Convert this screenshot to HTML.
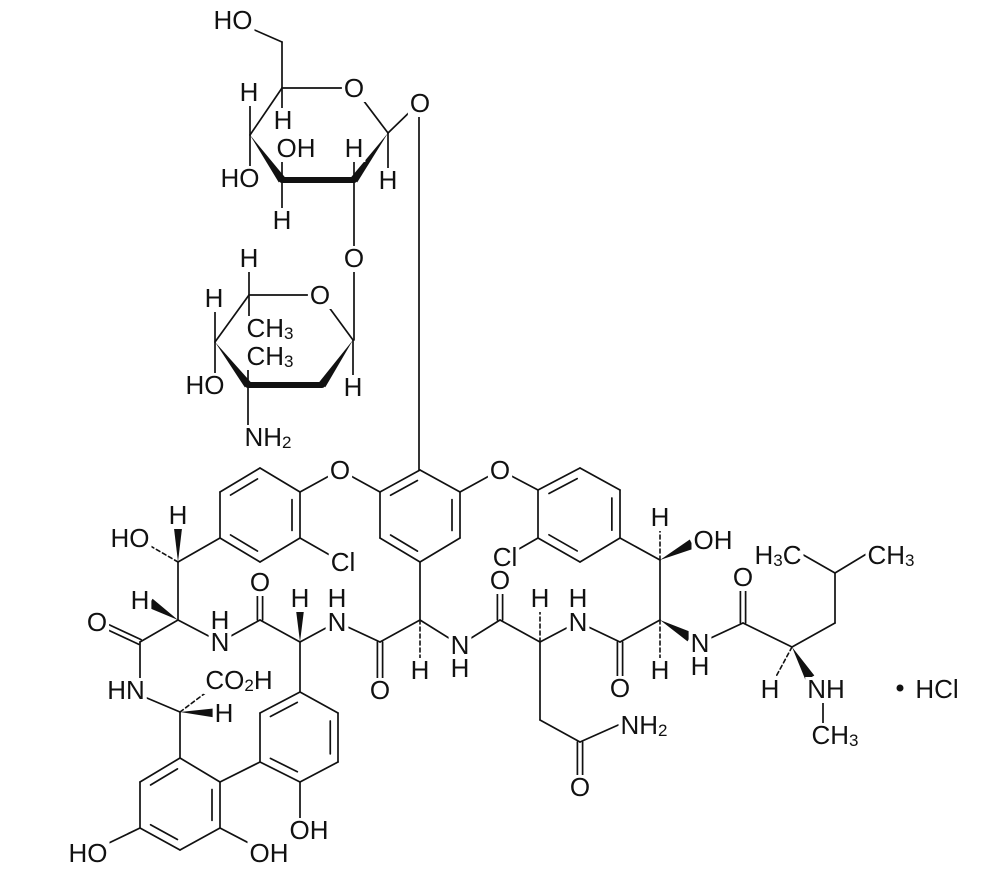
<!DOCTYPE html>
<html><head><meta charset="utf-8"><style>
html,body{margin:0;padding:0;background:#fff;}
svg{display:block;}
text{font-family:"Liberation Sans",Arial,sans-serif;font-size:26px;fill:#111;text-anchor:middle;dominant-baseline:central;}
tspan.s{font-size:17px;}
</style></head><body>
<svg id="s" width="982" height="872" viewBox="0 0 982 872" xmlns="http://www.w3.org/2000/svg">
<g id="b" stroke="#111" stroke-width="1.7" fill="none" stroke-linecap="round"></g>
<g id="m" fill="#fff" stroke="none"></g>
<g id="t">
<text x="233" y="20">HO</text>
<text x="354" y="88">O</text>
<text x="420" y="103">O</text>
<text x="249" y="92">H</text>
<text x="283" y="120">H</text>
<text x="354" y="148">H</text>
<text x="296" y="148">OH</text>
<text x="240" y="178">HO</text>
<text x="388" y="180">H</text>
<text x="282" y="220">H</text>
<text x="354" y="258">O</text>
<text x="249" y="258">H</text>
<text x="320" y="295">O</text>
<text x="214" y="298">H</text>
<text x="270" y="328">CH<tspan class="s" dy="5">3</tspan></text>
<text x="270" y="356">CH<tspan class="s" dy="5">3</tspan></text>
<text x="205" y="385">HO</text>
<text x="353" y="387">H</text>
<text x="268" y="437">NH<tspan class="s" dy="5">2</tspan></text>
<text x="340" y="470">O</text>
<text x="500" y="470">O</text>
<text x="178" y="515">H</text>
<text x="130" y="538">HO</text>
<text x="343" y="562">Cl</text>
<text x="505" y="557">Cl</text>
<text x="660" y="517">H</text>
<text x="713" y="540">OH</text>
<text x="778" y="555">H<tspan class="s" dy="5">3</tspan><tspan dy="-5">C</tspan></text>
<text x="891" y="555">CH<tspan class="s" dy="5">3</tspan></text>
<text x="260" y="582">O</text>
<text x="500" y="580">O</text>
<text x="743" y="577">O</text>
<text x="140" y="600">H</text>
<text x="300" y="598">H</text>
<text x="337" y="598">H</text>
<text x="578" y="598">H</text>
<text x="540" y="598">H</text>
<text x="220" y="620">H</text>
<text x="97" y="622">O</text>
<text x="220" y="642">N</text>
<text x="337" y="622">N</text>
<text x="578" y="622">N</text>
<text x="460" y="645">N</text>
<text x="700" y="643">N</text>
<text x="420" y="670">H</text>
<text x="460" y="668">H</text>
<text x="660" y="670">H</text>
<text x="700" y="666">H</text>
<text x="239" y="680">CO<tspan class="s" dy="5">2</tspan><tspan dy="-5">H</tspan></text>
<text x="126" y="690">HN</text>
<text x="380" y="690">O</text>
<text x="620" y="688">O</text>
<text x="770" y="689">H</text>
<text x="826" y="689">NH</text>
<text x="937" y="689">HCl</text>
<text x="224" y="713">H</text>
<text x="644" y="725">NH<tspan class="s" dy="5">2</tspan></text>
<text x="835" y="735">CH<tspan class="s" dy="5">3</tspan></text>
<text x="580" y="787">O</text>
<text x="309" y="830">OH</text>
<text x="88" y="853">HO</text>
<text x="269" y="853">OH</text>
</g>
<circle cx="900" cy="688" r="3.5" fill="#111"/>
</svg>
<script>
var g=document.getElementById('b'),NS='http://www.w3.org/2000/svg';
function el(n,a){var e=document.createElementNS(NS,n);for(var k in a)e.setAttribute(k,a[k]);g.appendChild(e);return e;}
function L(a,b,c,d,w,da){var o={x1:a,y1:b,x2:c,y2:d};if(w)o['stroke-width']=w;if(da)o['stroke-dasharray']=da;return el('line',o);}
function D(a,b,c,d){var dx=c-a,dy=d-b,l=Math.hypot(dx,dy),nx=-dy/l*2.6,ny=dx/l*2.6;L(a+nx,b+ny,c+nx,d+ny);L(a-nx,b-ny,c-nx,d-ny);}
function W(a,b,c,d,w){w=w||4;var dx=c-a,dy=d-b,l=Math.hypot(dx,dy),nx=-dy/l*w,ny=dx/l*w;el('polygon',{points:a+','+b+' '+(c+nx)+','+(d+ny)+' '+(c-nx)+','+(d-ny),fill:'#111',stroke:'none'});}
function H(a,b,c,d){L(a,b,c,d,1.6,'4,3');}
function ring(v,inner){var cx=0,cy=0;v.forEach(function(p){cx+=p[0];cy+=p[1];});cx/=6;cy/=6;
for(var i=0;i<6;i++){var p=v[i],q=v[(i+1)%6];L(p[0],p[1],q[0],q[1]);}
inner.forEach(function(i){var p=v[i],q=v[(i+1)%6],f=0.2;
var p1=[p[0]+(cx-p[0])*f,p[1]+(cy-p[1])*f],q1=[q[0]+(cx-q[0])*f,q[1]+(cy-q[1])*f];
var t=0.08;L(p1[0]+(q1[0]-p1[0])*t,p1[1]+(q1[1]-p1[1])*t,q1[0]+(p1[0]-q1[0])*t,q1[1]+(p1[1]-q1[1])*t);});}
L(250,28,282,42);L(282,42,282,88);L(282,88,354,88);L(354,88,388,133);L(388,133,419,103);L(419,103,419,470);
L(388,133,388,180);W(388,133,354,180);L(354,180,282,180,6);W(250,135,282,180);L(250,135,282,88);
L(354,180,354,148);L(354,180,354,258);L(282,180,282,150);L(282,180,282,220);L(250,135,250,92);L(250,135,250,178);L(282,88,282,120);
L(354,258,354,340);L(320,295,353,340);L(249,295,320,295);L(249,295,249,258);L(249,295,249,318);L(249,295,215,342);
L(215,342,215,298);L(215,342,215,385);W(215,342,248,385);L(248,385,248,356);L(248,385,248,437);L(248,385,322,385,6);
W(353,340,322,385);L(353,340,353,387);
ring([[420,470],[460,492],[460,538],[420,562],[380,538],[380,492]],[5,1,3]);
ring([[260,468],[300,492],[300,538],[260,562],[220,538],[220,492]],[5,1,3]);
ring([[580,468],[620,490],[620,538],[580,562],[538,538],[538,490]],[5,1,3]);
ring([[180,758],[220,782],[220,828],[180,850],[140,828],[140,782]],[5,1,3]);
ring([[300,692],[338,713],[338,762],[300,782],[260,762],[260,713]],[5,1,3]);
L(380,492,340,470);L(340,470,300,492);L(460,492,500,470);L(500,470,538,490);
L(300,538,342,562);L(538,538,505,557);
L(220,538,178,562);W(178,562,178,520,5);H(178,562,140,540);L(178,562,178,620);W(178,620,150,603,5);
L(178,620,220,642);L(220,642,260,620);D(260,620,260,582);L(260,620,300,642);W(300,642,300,602,5);
L(300,642,337,622);L(337,622,380,642);D(380,642,380,690);L(380,642,420,620);L(420,620,420,562);H(420,620,420,670);
L(420,620,460,645);L(460,645,500,620);D(500,620,500,580);L(500,620,540,642);H(540,642,540,598);
L(540,642,578,622);L(578,622,620,642);D(620,642,620,688);L(620,642,660,620);H(660,620,660,670);W(660,620,690,637,5);
L(660,620,660,560);H(660,560,660,517);W(660,560,692,544,5);L(660,560,620,538);
L(700,643,743,623);D(743,623,743,577);L(743,623,792,647);L(792,647,835,623);L(835,623,835,573);L(835,573,800,553);L(835,573,868,553);
H(792,647,772,684);W(792,647,810,678,5);L(823,700,823,735);
L(540,642,540,720);L(540,720,580,742);D(580,742,580,787);L(580,742,625,722);
L(178,620,140,642);D(140,642,97,622);L(140,642,140,690);L(128,690,180,712);H(180,712,220,682);W(180,712,218,713,5);
L(180,712,180,758);L(220,782,260,762);L(300,692,300,642);
L(300,782,300,830);L(140,828,88,853);L(220,828,268,853);
var m=document.getElementById('m');
Array.prototype.forEach.call(document.querySelectorAll('#t text'),function(t){var bb=t.getBBox();
var r=document.createElementNS(NS,'rect');r.setAttribute('x',bb.x-2);r.setAttribute('y',bb.y+3);r.setAttribute('width',bb.width+4);r.setAttribute('height',bb.height-4);m.appendChild(r);});
</script>
</body></html>
